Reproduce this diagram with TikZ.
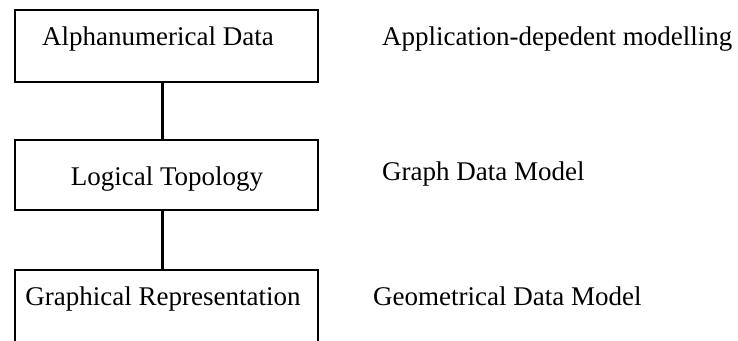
\documentclass[tikz,border=0pt]{standalone}
\usepackage{fontspec}
\setmainfont{Liberation Serif}
\begin{document}
\begin{tikzpicture}[x=1pt,y=1pt,
  box/.style={draw=black, line width=2.4pt, minimum width=303pt, inner sep=0pt},
  txt/.style={font=\fontsize{27}{30}\selectfont, anchor=base, inner sep=0pt},
  side/.style={font=\fontsize{27}{30}\selectfont, anchor=base west, inner sep=0pt},
  link/.style={line width=3pt}]
\useasboundingbox (0,0) rectangle (738,-340);
\clip (0,0) rectangle (738,-340);
\node[box, minimum height=72pt] (b1) at (166.5,-46) {};
\node[box, minimum height=70pt] (b2) at (166.5,-175) {};
\node[box, minimum height=100pt] (b3) at (166.5,-320) {};
\node[txt] (t1) at (158,-45) {Alphanumerical Data};
\node[txt] (t2) at (167,-185) {Logical Topology};
\node[txt] (t3) at (163,-305) {Graphical Representation};
\node[side] (s1) at (382,-45) {Application-depedent modelling};
\node[side] (s2) at (382,-180) {Graph Data Model};
\node[side] (s3) at (373,-305) {Geometrical Data Model};
\draw[link] (b1.south -| 162,0) -- (b2.north -| 162,0);
\draw[link] (b2.south -| 162,0) -- (b3.north -| 162,0);
\end{tikzpicture}
\end{document}
